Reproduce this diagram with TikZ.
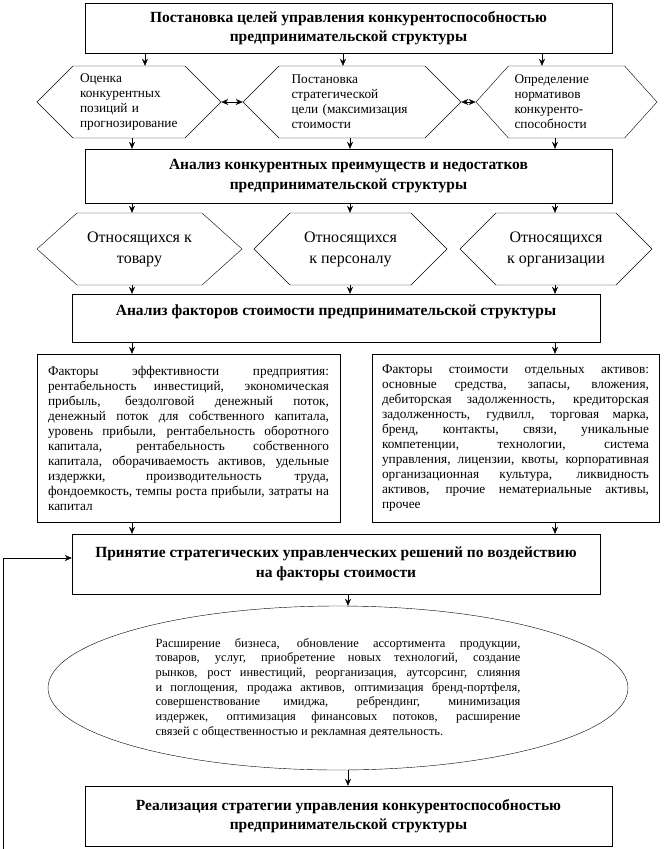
\documentclass[tikz,border=0pt]{standalone}
\usepackage{fontspec}
\setmainfont{Liberation Serif}
\usetikzlibrary{positioning}
\usetikzlibrary{shapes.geometric,shapes.symbols}
\usetikzlibrary{arrows.meta}
\tikzset{>={Stealth[length=7pt,width=6pt]}}
\tikzset{
  headbox/.style={draw, minimum width=527pt, align=center, font=\bfseries\fontsize{15.5}{19.5}\selectfont},
  hexbox/.style={draw, shape=signal, signal to=west and east, signal pointer angle=90, inner sep=0pt, align=left, font=\fontsize{13.3}{15}\selectfont},
  hexlow/.style={hexbox, align=center, minimum height=72pt, font=\fontsize{16}{21}\selectfont},
  txtbox/.style={draw, align=justify, minimum height=168pt, font=\fontsize{13.3}{15}\selectfont,
    execute at begin node={\tolerance=10000\hyphenpenalty=10000}},
}
\begin{document}
\begin{tikzpicture}[x=1pt,y=-1pt]
\useasboundingbox (0,0) rectangle (664,849);
\coordinate (tA) at (145,0);
\coordinate (tB) at (343,0);
\coordinate (tC) at (542,0);
\coordinate (cA) at (132,0);
\coordinate (cB) at (350,0);
\coordinate (cC) at (555,0);
\coordinate (cM) at (348,0);

\node[headbox, minimum height=50pt] (goal) at (348.5,28) {Постановка целей управления конкурентоспособностью\\ предпринимательской структуры};

\node[hexbox, minimum width=184pt, minimum height=72pt, text width=98pt] (hexA) at (129,102) {Оценка\\ конкурентных\\ позиций и\\ прогнозирование};
\node[hexbox, minimum width=218pt, minimum height=72pt, text width=121pt] (hexB) at (352,102) {Постановка\\ стратегической\\ цели (максимизация\\ стоимости};
\node[hexbox, minimum width=181pt, minimum height=72pt, text width=104pt, signal pointer angle=96] (hexC) at (566.5,102) {Определение\\ нормативов\\ конкуренто-\\ способности};

\node[headbox, minimum height=54pt] (adv) at (348.5,176) {Анализ конкурентных преимуществ и недостатков\\ предпринимательской структуры};

\node[hexlow, minimum width=205pt, signal pointer angle=84] (hexD) at (139.5,249) {Относящихся к\\ товару};
\node[hexlow, minimum width=193pt] (hexE) at (350.5,249) {Относящихся\\ к персоналу};
\node[hexlow, minimum width=192pt] (hexF) at (556,249) {Относящихся\\ к организации};

\node[headbox, minimum width=528pt, minimum height=48pt, text depth=15pt] (fact) at (336,318) {Анализ факторов стоимости предпринимательской структуры};

\node[txtbox, text width=281pt, inner xsep=11pt] (effL) at (188.5,438) {Факторы эффективности предприятия:\linebreak
рентабельность инвестиций, экономическая\linebreak
прибыль, бездолговой денежный поток,\linebreak
денежный поток для собственного капитала,\linebreak
уровень прибыли, рентабельность оборотного\linebreak
капитала, рентабельность собственного\linebreak
капитала, оборачиваемость активов, удельные\linebreak
издержки, производительность труда,\linebreak
фондоемкость, темпы роста прибыли, затраты на\linebreak
капитал};
\node[txtbox, text width=267pt, inner xsep=10pt] (valR) at (515.5,438) {Факторы стоимости отдельных активов:\linebreak
основные средства, запасы, вложения,\linebreak
дебиторская задолженность, кредиторская\linebreak
задолженность, гудвилл, торговая марка,\linebreak
бренд, контакты, связи, уникальные\linebreak
компетенции, технологии, система\linebreak
управления, лицензии, квоты, корпоративная\linebreak
организационная культура, ликвидность\linebreak
активов, прочие нематериальные активы,\linebreak
прочее};

\node[headbox, minimum width=528pt, minimum height=60pt] (dec) at (336,564) {Принятие стратегических управленческих решений по воздействию\\ на факторы стоимости};

\node[draw, ellipse, minimum width=580pt, minimum height=164pt, inner sep=0pt, text width=365pt, align=justify,
  font=\fontsize{12.5}{14.7}\selectfont, execute at begin node={\tolerance=10000\hyphenpenalty=10000}] (acts) at (338,688) {Расширение бизнеса, обновление ассортимента продукции,\linebreak
товаров, услуг, приобретение новых технологий, создание\linebreak
рынков, рост инвестиций, реорганизация, аутсорсинг, слияния\linebreak
и поглощения, продажа активов, оптимизация бренд-портфеля,\linebreak
совершенствование имиджа, ребрендинг, минимизация\linebreak
издержек, оптимизация финансовых потоков, расширение\linebreak
связей с общественностью и рекламная деятельность.};

\node[headbox, minimum height=60pt] (impl) at (348.5,816) {Реализация стратегии управления конкурентоспособностью\\ предпринимательской структуры};

\draw[->] (goal.south -| tA) -- (hexA.north -| tA);
\draw[->] (goal.south -| tB) -- (hexB.north -| tB);
\draw[->] (goal.south -| tC) -- (hexC.north -| tC);
\draw[<->] (hexA.east) -- (hexB.west);
\draw[<->] (hexB.east) -- (hexC.west);
\draw[->] (hexA.south -| cA) -- (adv.north -| cA);
\draw[->] (hexB.south -| cB) -- (adv.north -| cB);
\draw[->] (hexC.south -| cC) -- (adv.north -| cC);
\draw[->] (adv.south -| cA) -- (hexD.north -| cA);
\draw[->] (adv.south -| cB) -- (hexE.north -| cB);
\draw[->] (adv.south -| cC) -- (hexF.north -| cC);
\draw[->] (hexD.south -| cA) -- (fact.north -| cA);
\draw[->] (hexE.south -| cB) -- (fact.north -| cB);
\draw[->] (hexF.south -| cC) -- (fact.north -| cC);
\draw[->] (fact.south -| cA) -- (effL.north -| cA);
\draw[->] (fact.south -| cC) -- (valR.north -| cC);
\draw[->] (effL.south -| cA) -- (dec.north -| cA);
\draw[->] (valR.south -| cC) -- (dec.north -| cC);
\draw[->] (dec.south -| cM) -- (acts.north -| cM);
\draw[->] (acts.south -| cM) -- (impl.north -| cM);

\coordinate (fb) at (3,849);
\draw[->] (fb) |- ([yshift=6pt]dec.west);
\end{tikzpicture}
\end{document}
